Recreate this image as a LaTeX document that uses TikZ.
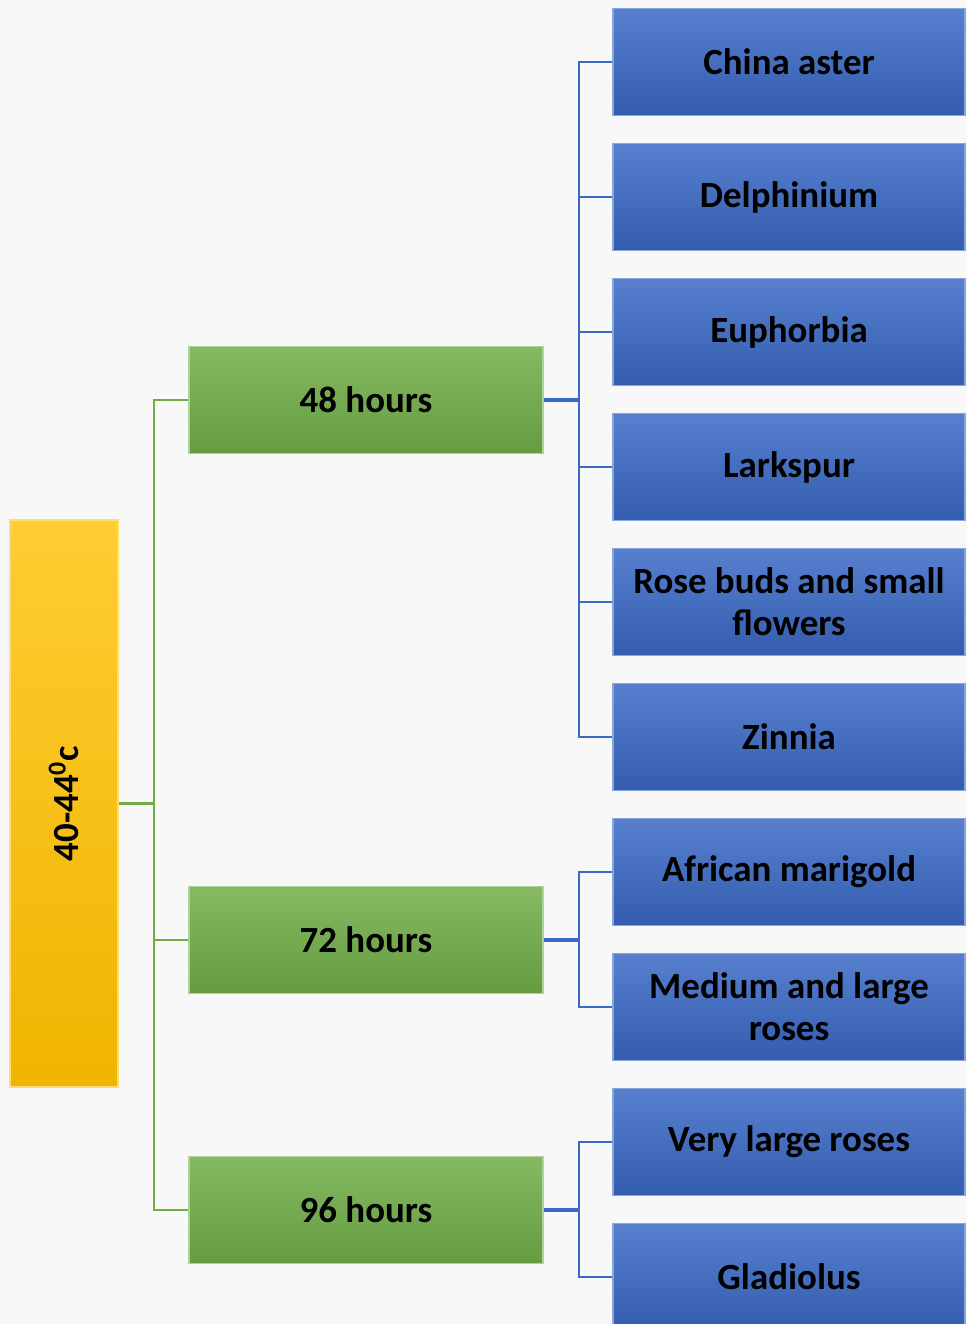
\documentclass[tikz,border=0pt]{standalone}
\usepackage{fontspec}
\setmainfont{Carlito}
\usepackage{tikz}
\usetikzlibrary{calc}
\usepackage{xcolor}
\definecolor{pYellow}{HTML}{FFC000}
\definecolor{pGreen}{HTML}{70AD47}
\definecolor{pBlue}{HTML}{3A69C6}
\definecolor{pBack}{HTML}{F8F8F8}

\begin{document}
\begin{tikzpicture}[x=0.02cm, y=-0.02cm]
    \pgfmathsetmacro{\w}{0.02}	%px to cm
	\pgfmathsetmacro{\d}{135}	%row step

    \tikzset{
        box/.style={rectangle, line width=1pt, align=center,
            font=\fontsize{21}{24}\selectfont\bfseries, text=black},
        tempbox/.style={box, draw=pYellow!55!white, top color=pYellow!80!white, bottom color=pYellow!94!black,
            minimum width=108*\w cm, minimum height=567*\w cm},
        timebox/.style={box, draw=pGreen!55!white, top color=pGreen!85!white, bottom color=pGreen!90!black,
            minimum width=354*\w cm, minimum height=107*\w cm},
        flowerbox/.style={box, draw=pBlue!60!white, top color=pBlue!85!white, bottom color=pBlue!88!black,
            minimum width=352*\w cm, minimum height=107*\w cm},
        greenline/.style={draw=pGreen, line width=1.4pt},
        blueline/.style={draw=pBlue, line width=1.1pt},
        bluestub/.style={draw=pBlue, line width=2.3pt}
    }

    \useasboundingbox[fill=pBack] (0,0) rectangle (967,1324);

    \node[tempbox] (temp) at (64,803.5) {\rotatebox{90}{40-44\textsuperscript{0}c}};

    \node[timebox] (h48) at (366,400) {48 hours};
    \node[timebox] (h72) at (366,940) {72 hours};
    \node[timebox] (h96) at (366,1210) {96 hours};

    \foreach \name/\txt [count=\i from 0] in {f1/China aster, f2/Delphinium, f3/Euphorbia, f4/Larkspur,
        f5/{Rose buds and small\\flowers}, f6/Zinnia, f7/African marigold, f8/{Medium and large\\roses},
        f9/Very large roses, f10/Gladiolus}
        \node[flowerbox] (\name) at (789,62+\i*\d) {\txt};

    \coordinate (gT) at (154,803.5);
    \coordinate (b48) at (579,400);
    \coordinate (b72) at (579,940);
    \coordinate (b96) at (579,1210);

    \draw[greenline] (temp.east) -- (gT);
    \foreach \h in {h48,h72,h96}
        \draw[greenline] (gT) |- (\h.west);

    \draw[bluestub] (h48.east) -- (b48);
    \draw[bluestub] (h72.east) -- (b72);
    \draw[bluestub] (h96.east) -- (b96);
    \foreach \f in {f1,f2,f3,f4,f5,f6}
        \draw[blueline] (b48) |- (\f.west);
    \foreach \f in {f7,f8}
        \draw[blueline] (b72) |- (\f.west);
    \foreach \f in {f9,f10}
        \draw[blueline] (b96) |- (\f.west);
\end{tikzpicture}
\end{document}
